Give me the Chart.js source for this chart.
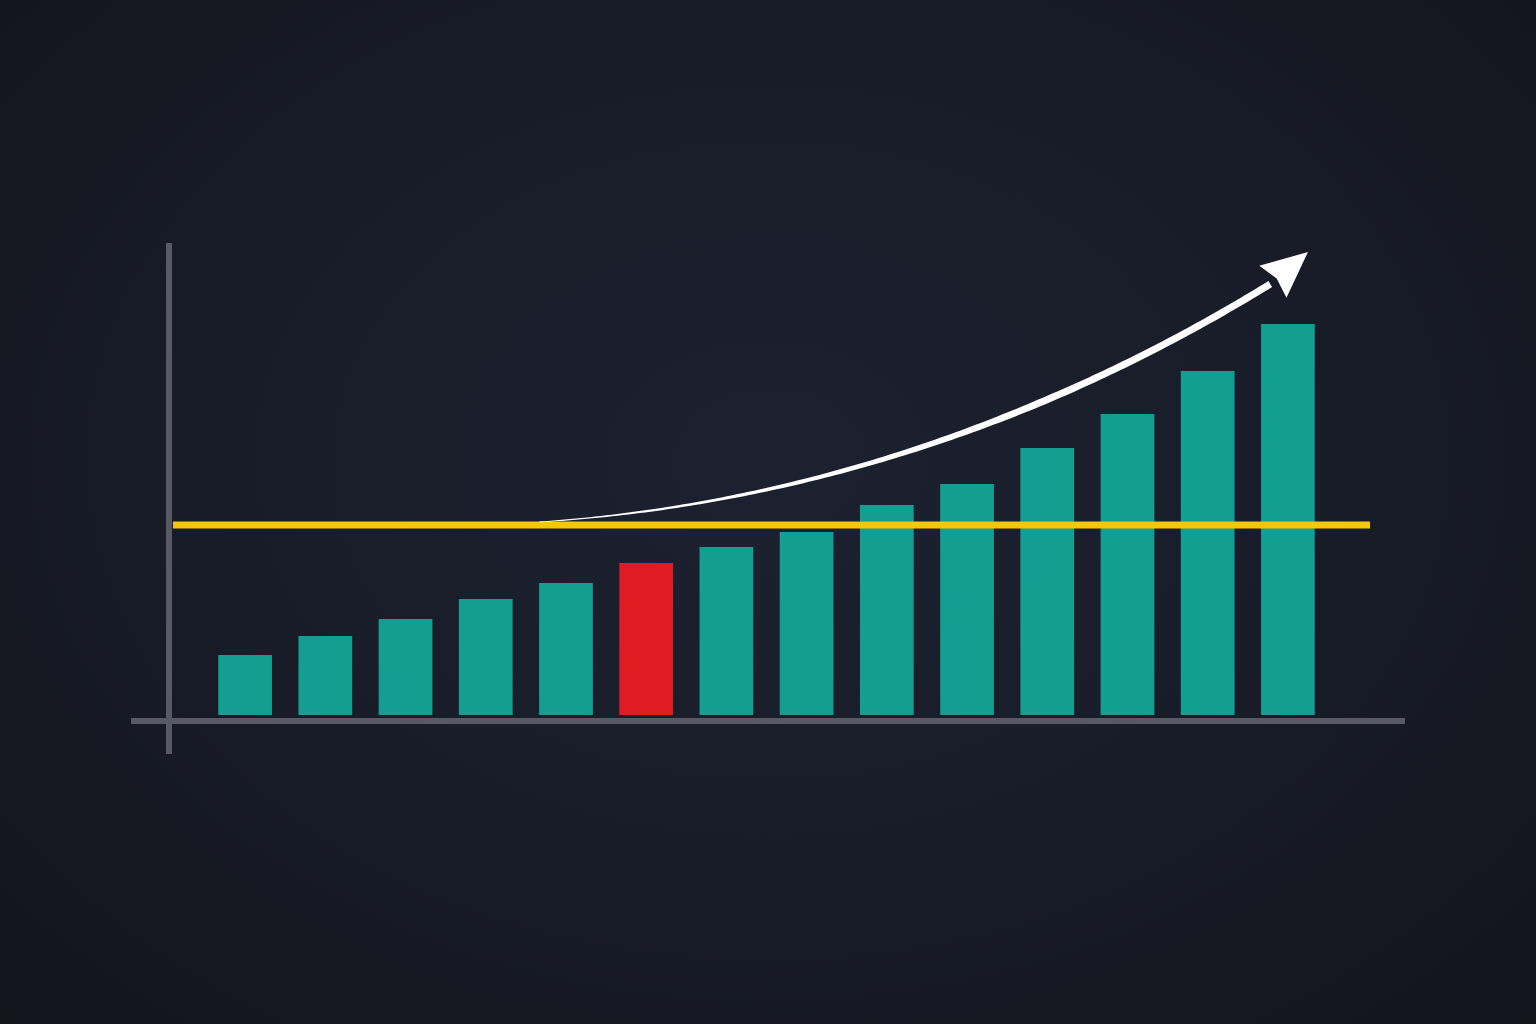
<!DOCTYPE html>
<html>
<head>
<meta charset="utf-8">
<script src="https://cdn.jsdelivr.net/npm/chart.js@4"></script>
<style>
html,body{margin:0;padding:0;width:1536px;height:1024px;overflow:hidden;}
body{background:radial-gradient(ellipse at 50% 45%, #1c2130 0%, #191d29 45%, #12151c 100%);}
#wrap{position:absolute;left:0;top:0;width:1536px;height:1024px;}
</style>
</head>
<body>
<div id="wrap"><canvas id="c"></canvas></div>
<script>
// ---- data ----
const categories = ["1","2","3","4","5","6","7","8","9","10","11","12","13","14"];
const values = [60, 79, 96, 116, 132, 152, 168, 183, 210, 231, 267, 301, 344, 391];
const highlightIndex = 5;
const referenceLevel = 190;
// trend arrow in data space: [categoryIndex, value]
const arrowStart = [3.67, 193];
const arrowCtrl1 = [6.92, 210];
const arrowCtrl2 = [10.03, 295];
const arrowEnd = [12.78, 431];
const arrowTip = [13.25, 463];

const teal = "#129e91";
const red = "#e01c23";
const yellow = "#f3c80c";
const axisGray = "#575a64";

const decor = {
  id: "decor",
  beforeDatasetsDraw(chart) {
    const {ctx, chartArea, scales:{x, y}} = chart;
    const y0 = y.getPixelForValue(0);
    ctx.save();
    ctx.strokeStyle = axisGray;
    ctx.lineWidth = 6;
    ctx.lineCap = "butt";
    ctx.beginPath();
    ctx.moveTo(chartArea.left - 36, y0 - 472);
    ctx.lineTo(chartArea.left - 36, y0 + 39);
    ctx.stroke();
    ctx.beginPath();
    ctx.moveTo(chartArea.left - 74, y0 + 6);
    ctx.lineTo(chartArea.right + 77, y0 + 6);
    ctx.stroke();
    ctx.restore();
  },
  afterDatasetsDraw(chart) {
    const {ctx, chartArea, scales:{x, y}} = chart;
    const P = (p) => [x.getPixelForValue(p[0]), y.getPixelForValue(p[1])];
    ctx.save();
    const yl = y.getPixelForValue(referenceLevel);
    ctx.strokeStyle = yellow;
    ctx.lineWidth = 7;
    ctx.beginPath();
    ctx.moveTo(chartArea.left - 32, yl);
    ctx.lineTo(chartArea.right + 42, yl);
    ctx.stroke();

    const p0 = P(arrowStart), p1 = P(arrowCtrl1), p2 = P(arrowCtrl2), p3 = P(arrowEnd);
    const N = 140;
    const left = [], right = [];
    for (let i = 0; i <= N; i++) {
      const t = i / N, u = 1 - t;
      const px = u*u*u*p0[0] + 3*u*u*t*p1[0] + 3*u*t*t*p2[0] + t*t*t*p3[0];
      const py = u*u*u*p0[1] + 3*u*u*t*p1[1] + 3*u*t*t*p2[1] + t*t*t*p3[1];
      const dx = 3*u*u*(p1[0]-p0[0]) + 6*u*t*(p2[0]-p1[0]) + 3*t*t*(p3[0]-p2[0]);
      const dy = 3*u*u*(p1[1]-p0[1]) + 6*u*t*(p2[1]-p1[1]) + 3*t*t*(p3[1]-p2[1]);
      const len = Math.hypot(dx, dy) || 1;
      const nx = -dy/len, ny = dx/len;
      const w = (0.4 + 3.1 * Math.min(1, t * 1.5));
      left.push([px + nx*w, py + ny*w]);
      right.push([px - nx*w, py - ny*w]);
    }
    ctx.fillStyle = "#ffffff";
    ctx.beginPath();
    ctx.moveTo(left[0][0], left[0][1]);
    for (const q of left) ctx.lineTo(q[0], q[1]);
    for (let i = right.length - 1; i >= 0; i--) ctx.lineTo(right[i][0], right[i][1]);
    ctx.closePath();
    ctx.fill();

    const tip = P(arrowTip);
    const dx = tip[0] - p3[0], dy = tip[1] - p3[1];
    const L = Math.hypot(dx, dy);
    const ux = dx/L, uy = dy/L;
    const headLen = 46, halfW = 21;
    const bx = tip[0] - ux*headLen, by = tip[1] - uy*headLen;
    ctx.beginPath();
    ctx.moveTo(tip[0], tip[1]);
    ctx.lineTo(bx - uy*halfW, by + ux*halfW);
    ctx.lineTo(bx + ux*5, by + uy*5);
    ctx.lineTo(bx + uy*halfW, by - ux*halfW);
    ctx.closePath();
    ctx.fill();
    ctx.restore();
  }
};

new Chart(document.getElementById("c"), {
  type: "bar",
  data: {
    labels: categories,
    datasets: [{
      data: values,
      backgroundColor: values.map((v, i) => i === highlightIndex ? red : teal),
      borderWidth: 0,
      barPercentage: 0.67,
      categoryPercentage: 1
    }]
  },
  options: {
    responsive: true,
    maintainAspectRatio: false,
    animation: false,
    layout: { padding: { left: 205, right: 208, top: 215, bottom: 309 } },
    plugins: { legend: { display: false }, tooltip: { enabled: false } },
    scales: {
      x: { display: false, offset: true, grid: { display: false } },
      y: { display: false, min: 0, max: 500, grid: { display: false } }
    }
  },
  plugins: [decor]
});
</script>
</body>
</html>
